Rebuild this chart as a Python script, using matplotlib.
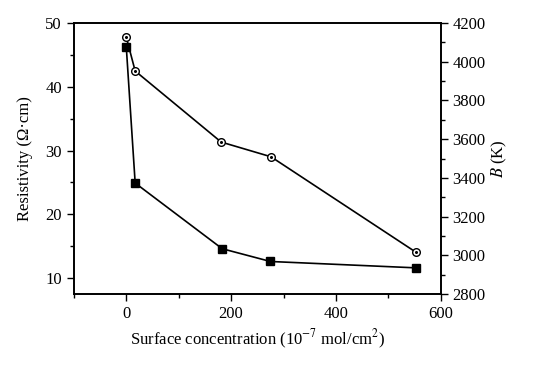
import matplotlib
matplotlib.use("Agg")
import matplotlib.pyplot as plt
from matplotlib.ticker import MultipleLocator as Ml

# data
conc = [0, 17, 183, 275, 553]            # surface concentration (1e-7 mol/cm2)
resistivity = [46.3, 24.9, 14.6, 12.6, 11.6]   # ohm.cm, squares
conc_b = [0, 17, 181, 276, 553]
b_const = [4127, 3952, 3585, 3509, 3015]  # K, circles

plt.rcParams['font.family'] = ['Liberation Serif', 'DejaVu Serif']
plt.rcParams['mathtext.fontset'] = 'stix'
fs = 12

fig = plt.figure(figsize=(5.35, 3.65), dpi=100)
ax = fig.add_axes([0.138, 0.1945, 0.686, 0.7425])
ax2 = ax.twinx()

ax.plot(conc, resistivity, color='black', lw=1.2, marker='s', ms=5.5,
        mfc='black', mec='black')
ax2.plot(conc_b, b_const, color='black', lw=1.2, marker='o', ms=5.5,
         mfc='white', mec='black', mew=1.0)
ax2.plot(conc_b, b_const, ls='none', marker='o', ms=1.2, color='black')

ax.set_xlim(-100, 600)
ax.set_ylim(7.5, 50)
ax2.set_ylim(2800, 4200)

ax.xaxis.set_major_locator(Ml(200))
ax.xaxis.set_minor_locator(Ml(100))
ax.yaxis.set_major_locator(Ml(10))
ax.yaxis.set_minor_locator(Ml(5))
ax2.yaxis.set_major_locator(Ml(200))
ax2.yaxis.set_minor_locator(Ml(100))

for a in (ax, ax2):
    a.tick_params(which='major', direction='out', length=5, width=1.0, labelsize=fs)
    a.tick_params(which='minor', direction='out', length=3, width=1.0)
    for s in a.spines.values():
        s.set_linewidth(1.2)
ax.tick_params(top=False, right=False)

ax.set_xlabel('Surface concentration (10$^{-7}$ mol/cm$^2$)', fontsize=fs)
ax.set_ylabel('Resistivity (\u03a9\u00b7cm)', fontsize=fs, labelpad=9)
ax2.set_ylabel('$B$ (K)', fontsize=fs, rotation=90, labelpad=3)

fig.savefig('out.png', dpi=100)
